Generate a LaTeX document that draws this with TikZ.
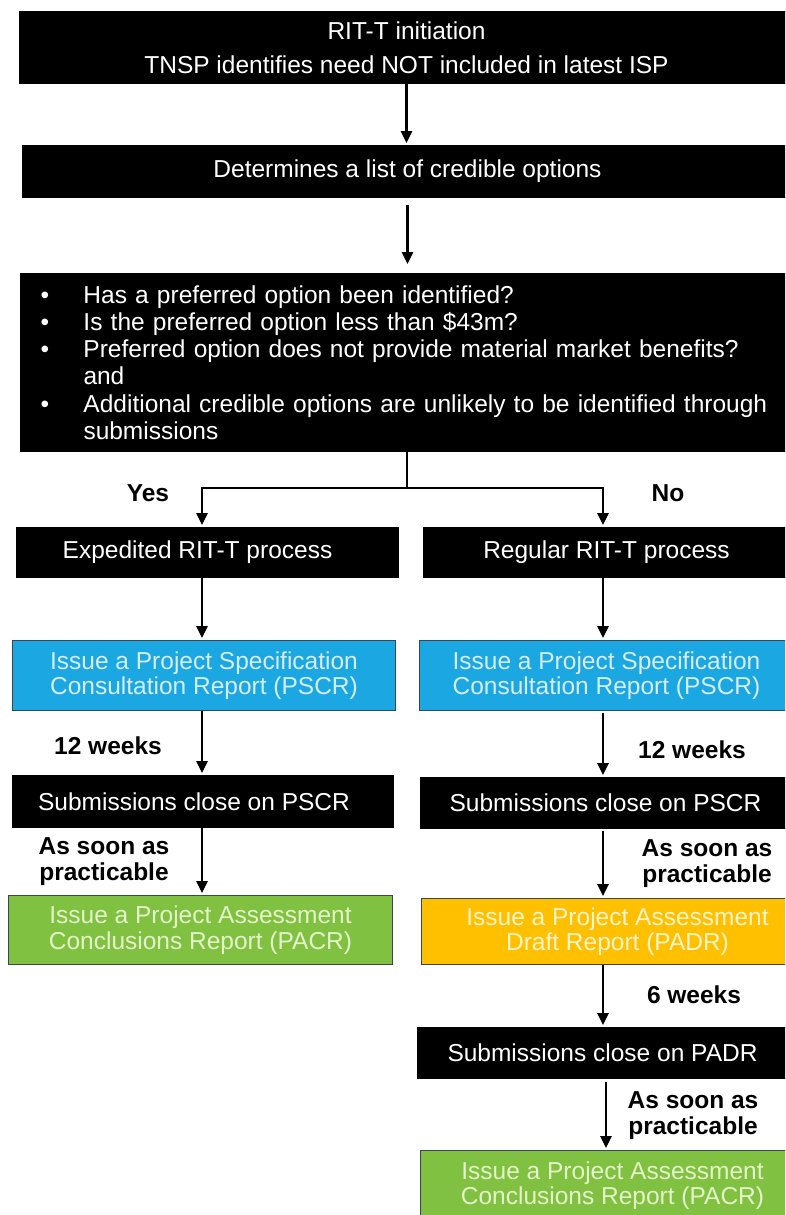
\documentclass[tikz,border=0pt]{standalone}
\usepackage{fontspec}
\setmainfont{Liberation Sans}
\usetikzlibrary{arrows.meta}
\definecolor{pblue}{RGB}{27,168,226}
\definecolor{pbluetext}{RGB}{214,236,248}
\definecolor{pborder}{RGB}{60,70,80}
\definecolor{pgreen}{RGB}{128,193,66}
\definecolor{pgreentext}{RGB}{228,244,200}
\definecolor{porange}{RGB}{255,192,0}
\definecolor{porangetext}{RGB}{255,243,204}
\begin{document}
\begin{tikzpicture}[x=1pt,y=-1pt,
  base/.style={anchor=north west, inner sep=0pt, font=\fontsize{24.5}{25.5}\selectfont},
  blackbox/.style={base, fill=black, draw=black, line width=1pt, text=white},
  bluebox/.style={base, fill=pblue, draw=pborder, line width=1pt, text=pbluetext, align=center},
  greenbox/.style={base, fill=pgreen, draw=pborder, line width=1pt, text=pgreentext, align=center},
  orangebox/.style={base, fill=porange, draw=pborder, line width=1pt, text=porangetext, align=center},
  lbl/.style={inner sep=0pt, align=center, font=\bfseries\fontsize{24.5}{26}\selectfont},
  conn/.style={line width=2.6pt},
  arr/.style={line width=2.6pt, -{Triangle[width=11pt,length=12pt]}, shorten >=2pt}]
\useasboundingbox (0,0) rectangle (785,1215);
\fill[white] (0,0) rectangle (785,1215);
\clip (0,0) rectangle (785,1215);
\coordinate (xL) at (202,0);
\coordinate (xR) at (603,0);
\coordinate (xR2) at (606,0);

\node[blackbox, minimum width=774pt, minimum height=72pt, align=center, font=\fontsize{24.5}{34}\selectfont] (init) at (19,11) {RIT-T initiation\\TNSP identifies need NOT included in latest ISP};
\node[blackbox, minimum width=770pt, minimum height=52pt] (det) at (22,145) {Determines a list of credible options};
\node[blackbox, minimum height=178pt, text width=773pt, align=left, font=\fontsize{24.5}{27.2}\selectfont] (q) at (20,273) {%
\makebox[63pt][l]{\hspace*{20pt}\textbullet}Has a preferred option been identified?\\
\makebox[63pt][l]{\hspace*{20pt}\textbullet}Is the preferred option less than \$43m?\\
\makebox[63pt][l]{\hspace*{20pt}\textbullet}Preferred option does not provide material market benefits?\\
\hspace*{63pt}and\\
\makebox[63pt][l]{\hspace*{20pt}\textbullet}Additional credible options are unlikely to be identified through\\
\hspace*{63pt}submissions};

\node[blackbox, minimum width=382pt, minimum height=50pt] (exp) at (16,527) {Expedited RIT-T process\hspace*{20pt}};
\node[blackbox, minimum width=366pt, minimum height=50pt] (reg) at (423,527) {Regular RIT-T process};

\node[bluebox, minimum width=383pt, minimum height=70pt] (pscrL) at (12,640) {Issue a Project Specification\\Consultation Report (PSCR)};
\node[bluebox, minimum width=374pt, minimum height=70pt] (pscrR) at (419,640) {Issue a Project Specification\\Consultation Report (PSCR)};

\node[blackbox, minimum width=381pt, minimum height=52pt] (subL) at (12,775) {Submissions close on PSCR\hspace*{18pt}};
\node[blackbox, minimum width=370pt, minimum height=51pt] (subR) at (420,777) {Submissions close on PSCR};

\node[greenbox, minimum width=384pt, minimum height=69pt] (pacrL) at (8,895) {Issue a Project Assessment\\Conclusions Report (PACR)};
\node[orangebox, minimum width=392pt, minimum height=66pt] (padr) at (421,898) {Issue a Project Assessment\\Draft Report (PADR)};

\node[blackbox, minimum width=370pt, minimum height=51pt] (subP) at (417,1027) {Submissions close on PADR};
\node[greenbox, minimum width=384pt, minimum height=70pt] (pacrR) at (420,1150) {Issue a Project Assessment\\Conclusions Report (PACR)};

% connectors
\draw[arr] (init.south) -- (init.south |- det.north);
\draw[arr, shorten <=7pt, shorten >=9pt] (det.south) -- (det.south |- q.north);
\draw[conn] (q.south) -- ++(0,36) coordinate (j);
\draw[arr] (j) -| (exp.north -| xL);
\draw[arr] (j) -| (reg.north -| xR);

\draw[arr] (exp.south -| xL) -- (pscrL.north -| xL);
\draw[arr] (pscrL.south -| xL) -- (subL.north -| xL);
\draw[arr] (subL.south -| xL) -- (pacrL.north -| xL);

\draw[arr] (reg.south -| xR) -- (pscrR.north -| xR);
\draw[arr, shorten <=2pt] (pscrR.south -| xR) -- (subR.north -| xR);
\draw[arr, shorten <=2pt] (subR.south -| xR) -- (padr.north -| xR);
\draw[arr] (padr.south -| xR) -- (subP.north -| xR);
\draw[arr, shorten <=3pt] (subP.south -| xR2) -- (pacrR.north -| xR2);

% labels
\node[lbl] (yes) at (148,493) {Yes};
\node[lbl] (no) at (668,493) {No};
\node[lbl] (w12L) at (108,746) {12 weeks};
\node[lbl] (w12R) at (692,750) {12 weeks};
\node[lbl] (asapL) at (104,862) {As soon as\\practicable};
\node[lbl] (asapR) at (707,864) {As soon as\\practicable};
\node[lbl] (w6) at (694,995) {6 weeks};
\node[lbl] (asapP) at (693,1116) {As soon as\\practicable};
\end{tikzpicture}
\end{document}
